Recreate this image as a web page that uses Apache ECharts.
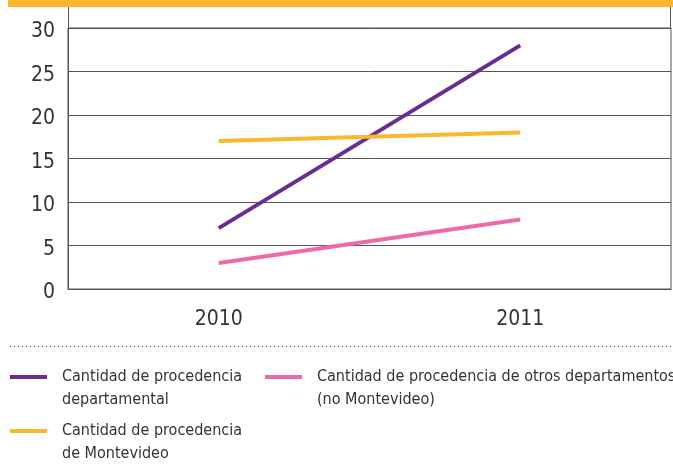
<!DOCTYPE html>
<html style="height: 100%">
<head>
    <meta charset="utf-8">
    <script type="text/javascript" src="https://cdn.jsdelivr.net/npm/echarts@6/dist/echarts.min.js"></script>
</head>
<body style="height: 100%; margin: 0; background: #fff">
<div id="container" style="width: 673px; height: 469px"></div>
<script type="text/javascript">
    var years = ['2010', '2011'];
    var departamental = [7, 28];
    var montevideo = [17, 18];
    var otros = [3, 8];

    var FONT = '"DejaVu Sans Condensed", "DejaVu Sans", sans-serif';
    var AXIS = '#555';
    var TXT = '#333';

    var dom = document.getElementById('container');
    var myChart = echarts.init(dom);

    // legend item: bar drawn at top of a taller icon box so it sits on the first text line
    function leg(name, left, top) {
        return {
            data: [name],
            left: left,
            top: top,
            padding: 0,
            icon: 'path://M0,0h37v4h-37zM0,27h0.01v0.01h-0.01z',
            itemWidth: 37,
            itemHeight: 27,
            selectedMode: false,
            textStyle: {
                fontFamily: FONT,
                fontSize: 16,
                color: TXT,
                lineHeight: 23,
                padding: [0, 0, 0, 10]
            }
        };
    }

    var option = {
        animation: false,
        grid: {
            left: 68, right: 2, top: 28, bottom: 180,
            show: true, borderColor: AXIS, borderWidth: 1
        },
        xAxis: {
            type: 'category',
            data: years,
            boundaryGap: true,
            axisLine: { lineStyle: { color: AXIS, width: 1 } },
            axisTick: { length: 13, lineStyle: { color: AXIS } },
            axisLabel: { fontFamily: FONT, fontSize: 21, color: TXT, margin: 20 }
        },
        yAxis: {
            type: 'value',
            min: 0, max: 30, interval: 5,
            axisLine: { show: true, lineStyle: { color: AXIS, width: 1 } },
            axisTick: { show: false },
            splitLine: { lineStyle: { color: AXIS, width: 1 } },
            axisLabel: {
                margin: 13,
                formatter: '{a|{value}}',
                rich: { a: { fontFamily: FONT, fontSize: 21, color: TXT, padding: [8, 0, 0, 0] } }
            }
        },
        legend: [
            leg('Cantidad de procedencia\ndepartamental', 10, 365.5),
            leg('Cantidad de procedencia\nde Montevideo', 10, 419.5),
            leg('Cantidad de procedencia de otros departamentos\n(no Montevideo)', 265, 365.5)
        ],
        graphic: [
            { type: 'rect', shape: { x: 8, y: 0, width: 665, height: 7 }, style: { fill: '#fbb730' } },
            { type: 'line', shape: { x1: 68.5, y1: 7, x2: 68.5, y2: 28 }, style: { stroke: AXIS, lineWidth: 1 } },
            { type: 'line', shape: { x1: 670.5, y1: 7, x2: 670.5, y2: 28 }, style: { stroke: AXIS, lineWidth: 1 } },
            { type: 'line', shape: { x1: 10, y1: 346.5, x2: 673, y2: 346.5 }, style: { stroke: '#444', lineWidth: 1, lineDash: [1, 3] } }
        ],
        series: [
            {
                name: 'Cantidad de procedencia\ndepartamental',
                type: 'line', data: departamental, showSymbol: false,
                lineStyle: { width: 4, color: '#6a2c90' }, itemStyle: { color: '#6a2c90' }
            },
            {
                name: 'Cantidad de procedencia\nde Montevideo',
                type: 'line', data: montevideo, showSymbol: false,
                lineStyle: { width: 4, color: '#fbb730' }, itemStyle: { color: '#fbb730' }
            },
            {
                name: 'Cantidad de procedencia de otros departamentos\n(no Montevideo)',
                type: 'line', data: otros, showSymbol: false,
                lineStyle: { width: 4, color: '#ee69a8' }, itemStyle: { color: '#ee69a8' }
            }
        ]
    };
    myChart.setOption(option);
</script>
</body>
</html>
